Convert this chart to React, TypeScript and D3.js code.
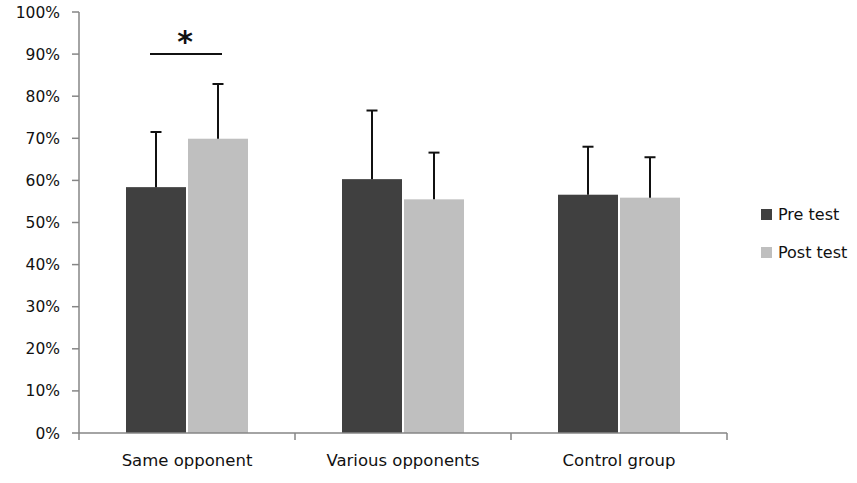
import React from "react";
import * as d3 from "d3";

const categories = ["Same opponent", "Various opponents", "Control group"];
const series = ["Pre test", "Post test"];
const preValues = [58.4, 60.3, 56.6];
const preErrors = [13.1, 16.3, 11.4];
const postValues = [69.9, 55.5, 55.9];
const postErrors = [13.0, 11.1, 9.6];
const yTicks = [0, 10, 20, 30, 40, 50, 60, 70, 80, 90, 100];
const colors = ["#404040", "#bfbfbf"];

const W = 857;
const H = 483;
const left = 79;
const right = 727;
const top = 12;
const bottom = 433;
const font = "'DejaVu Sans', sans-serif";

export default function App() {
  const x0 = d3.scaleBand<string>().domain(categories).range([left, right]).padding(0);
  const x1 = d3
    .scaleBand<string>()
    .domain(series)
    .range([47, 169])
    .paddingInner(2 / 62)
    .paddingOuter(0);
  const y = d3.scaleLinear().domain([0, 100]).range([bottom, top]);
  const values = [preValues, postValues];
  const errors = [preErrors, postErrors];
  const axisColor = "#868686";

  return (
    <svg
      width={W}
      height={H}
      style={{ position: "absolute", left: 0, top: 0, background: "#fff" }}
      fontFamily={font}
    >
      <rect width={W} height={H} fill="#fff" />
      {/* y axis */}
      <line x1={left} x2={left} y1={y(100)} y2={bottom} stroke={axisColor} strokeWidth={1.5} />
      {yTicks.map((t) => (
        <g key={t}>
          <line x1={left - 7} x2={left} y1={y(t)} y2={y(t)} stroke={axisColor} strokeWidth={1.5} />
          <text x={60} y={y(t)} dy="0.36em" textAnchor="end" fontSize={15.5} fill="#111">
            {t}%
          </text>
        </g>
      ))}
      {/* bars */}
      {categories.map((c, i) =>
        series.map((s, j) => {
          const bx = (x0(c) ?? 0) + (x1(s) ?? 0);
          const bw = x1.bandwidth();
          const v = values[j][i];
          const e = errors[j][i];
          const cx = bx + bw / 2;
          return (
            <g key={c + s}>
              <rect x={bx} y={y(v)} width={bw} height={bottom - y(v)} fill={colors[j]} />
              <line x1={cx} x2={cx} y1={y(v)} y2={y(v + e)} stroke="#111" strokeWidth={2} />
              <line x1={cx - 5.5} x2={cx + 5.5} y1={y(v + e)} y2={y(v + e)} stroke="#111" strokeWidth={2} />
            </g>
          );
        })
      )}
      {/* x axis */}
      <line x1={left} x2={right} y1={bottom} y2={bottom} stroke={axisColor} strokeWidth={1.5} />
      {[...categories.map((c) => x0(c) ?? 0), right].map((tx, i) => (
        <line key={i} x1={tx} x2={tx} y1={bottom} y2={bottom + 7} stroke={axisColor} strokeWidth={1.5} />
      ))}
      {categories.map((c) => (
        <text
          key={c}
          x={(x0(c) ?? 0) + x0.bandwidth() / 2}
          y={466}
          textAnchor="middle"
          fontSize={16.5}
          fill="#111"
        >
          {c}
        </text>
      ))}
      {/* significance */}
      <line x1={150} x2={222} y1={y(90)} y2={y(90)} stroke="#111" strokeWidth={2} />
      <text x={185} y={y(90) - 2} textAnchor="middle" fontSize={30} fontWeight="bold" fill="#111">
        *
      </text>
      {/* legend */}
      {series.map((s, j) => (
        <g key={s} transform={`translate(761, ${209 + j * 38})`}>
          <rect width={11} height={11} fill={colors[j]} />
          <text x={17} y={11} fontSize={16} fill="#111">
            {s}
          </text>
        </g>
      ))}
    </svg>
  );
}
